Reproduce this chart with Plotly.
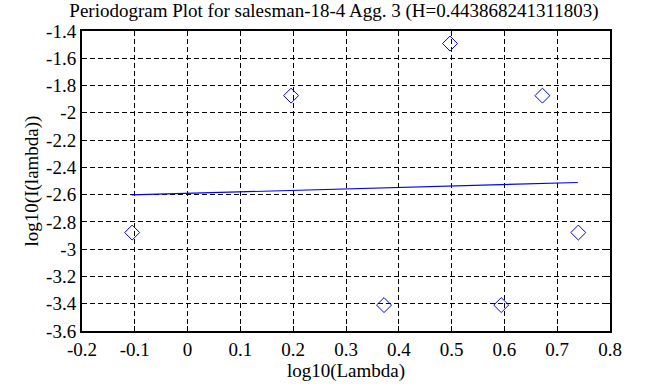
import plotly.graph_objects as go

title = "Periodogram Plot for salesman-18-4 Agg. 3 (H=0.443868241311803)"
x_pts = [-0.105, 0.196, 0.372, 0.497, 0.594, 0.672, 0.740]
y_pts = [-2.878, -1.874, -3.41, -1.492, -3.41, -1.874, -2.878]
line_x = [-0.106, 0.739]
line_y = [-2.602, -2.511]
x_ticks = [-0.2, -0.1, 0, 0.1, 0.2, 0.3, 0.4, 0.5, 0.6, 0.7, 0.8]
x_tick_text = ["-0.2", "-0.1", "0", "0.1", "0.2", "0.3", "0.4", "0.5", "0.6", "0.7", "0.8"]
y_ticks = [-3.6, -3.4, -3.2, -3.0, -2.8, -2.6, -2.4, -2.2, -2.0, -1.8, -1.6, -1.4]
y_tick_text = ["-3.6", "-3.4", "-3.2", "-3", "-2.8", "-2.6", "-2.4", "-2.2", "-2", "-1.8", "-1.6", "-1.4"]

font = "Liberation Serif"
fs = 19
fig = go.Figure()
fig.add_trace(go.Scatter(x=x_pts, y=y_pts, mode="markers",
                         marker=dict(symbol="diamond-open", size=11.5, color="blue",
                                     line=dict(color="blue", width=1)),
                         showlegend=False))
fig.add_trace(go.Scatter(x=line_x, y=line_y, mode="lines",
                         line=dict(color="blue", width=1.2), showlegend=False))

axis_common = dict(showgrid=True, gridcolor="black", griddash="5px,3px", gridwidth=1,
                   zeroline=False, showline=True, linecolor="black", linewidth=2,
                   mirror="allticks", ticks="inside", ticklen=5, tickcolor="black",
                   tickwidth=1, tickfont=dict(family=font, size=fs, color="black"))

fig.update_xaxes(range=[-0.2, 0.8], tickvals=x_ticks, ticktext=x_tick_text,
                 title=dict(text="log10(Lambda)", font=dict(family=font, size=fs, color="black"),
                            standoff=0),
                 **axis_common)
fig.update_yaxes(range=[-3.6, -1.4], tickvals=y_ticks, ticktext=y_tick_text,
                 title=dict(text="log10(I(lambda))", font=dict(family=font, size=fs, color="black"),
                            standoff=2),
                 **axis_common)

fig.update_layout(width=668, height=387,
                  margin=dict(l=82, r=58, t=31, b=56),
                  paper_bgcolor="white", plot_bgcolor="white",
                  title=dict(text=title, x=0.5, xanchor="center", y=0.972, yanchor="middle",
                             font=dict(family=font, size=fs, color="black")),
                  font=dict(family=font, color="black"))

fig.write_html("out.html", config={"displayModeBar": False},
               post_script="document.body.style.margin='0';document.body.style.padding='0';")
